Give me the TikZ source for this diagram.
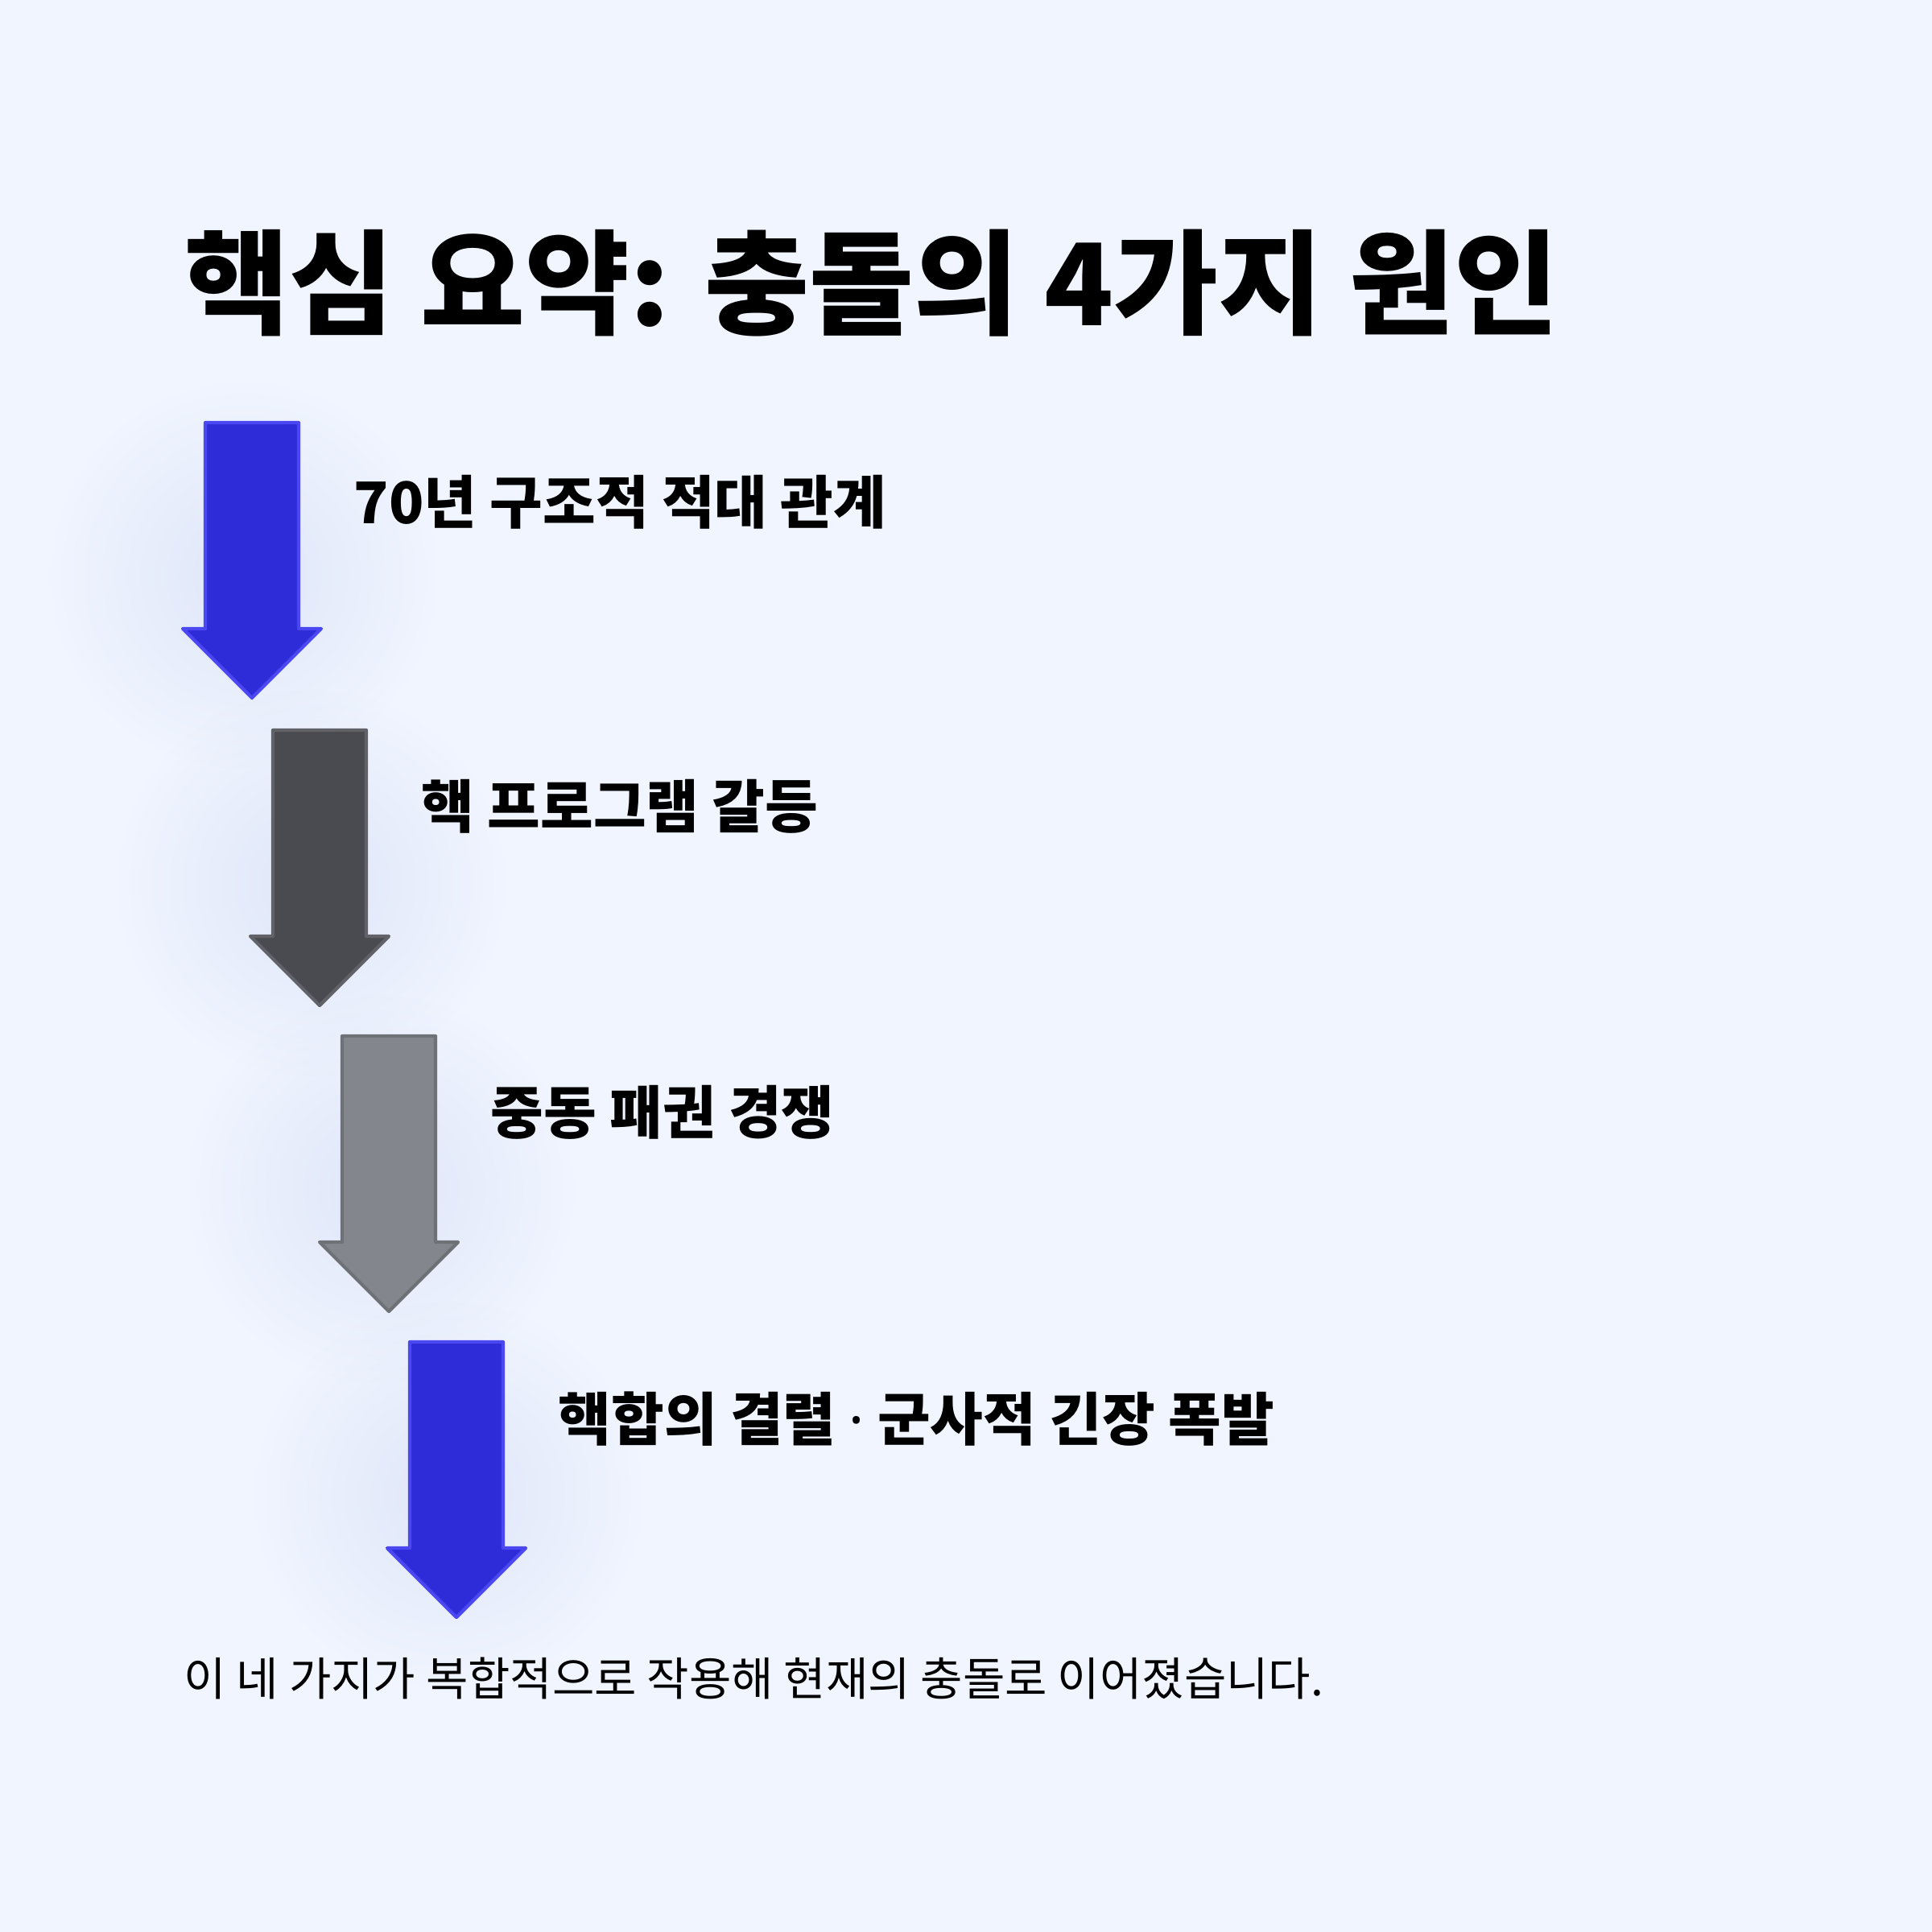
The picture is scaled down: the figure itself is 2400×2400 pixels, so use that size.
\documentclass[tikz,border=0pt]{standalone}
\usepackage{fontspec}
\setmainfont{Noto Sans CJK KR}
\newfontfamily\latinsans{Noto Sans}
\usetikzlibrary{fadings}

\definecolor{bgcol}{HTML}{F0F5FF}
\definecolor{halocol}{HTML}{D9E1F5}
\definecolor{bluefill}{HTML}{2E2BD9}
\definecolor{blueline}{HTML}{4B48F2}
\definecolor{darkfill}{HTML}{4A4B50}
\definecolor{darkline}{HTML}{616268}
\definecolor{greyfill}{HTML}{83868C}
\definecolor{greyline}{HTML}{6E7176}

\tikzfading[name=halofade, inner color=transparent!25, outer color=transparent!100]

\begin{document}
\begin{tikzpicture}[x=0.01cm, y=-0.01cm, every node/.style={inner sep=0pt, anchor=west, text=black},
    causelabel/.style={font=\bfseries\fontsize{20.3}{24}\selectfont}]
  % Background
  \fill[bgcol] (0,0) rectangle (2400,2400);

  % Soft halos behind the arrows
  \foreach \cx/\ty in {313/525, 397/907, 483/1287, 567/1667}
    \fill[halocol, path fading=halofade] (\cx-10,\ty+190) circle (2.4cm);

  % Arrows
  \foreach \cx/\ty/\fc/\dc in {313/525/bluefill/blueline, 397/907/darkfill/darkline,
                               483/1287/greyfill/greyline, 567/1667/bluefill/blueline}
    \filldraw[fill=\fc, draw=\dc, line width=1.2pt, line join=round]
      (\cx-58,\ty) -- (\cx+58,\ty) -- (\cx+58,\ty+256) -- (\cx+86,\ty+256)
      -- (\cx,\ty+342) -- (\cx-86,\ty+256) -- (\cx-58,\ty+256) -- cycle;

  % Title
  \node[font=\bfseries\fontsize{40.2}{48}\selectfont] (title) at (229,352) {핵심 요약: 충돌의 4가지 원인};

  % Cause labels
  \node[causelabel] (cause1) at (439,624) {70년 구조적 적대 관계};
  \node[causelabel] (cause2) at (523,1002) {핵 프로그램 갈등};
  \node[causelabel] (cause3) at (609,1382) {중동 패권 경쟁};
  \node[causelabel] (cause4) at (693,1763) {핵합의 결렬 {\latinsans\bfseries ·} 군사적 긴장 폭발};

  % Summary line
  \node[font=\fontsize{16.2}{20}\selectfont] (summary) at (228,2085) {이 네 가지가 복합적으로 작용해 현재의 충돌로 이어졌습니다.};
\end{tikzpicture}
\end{document}
